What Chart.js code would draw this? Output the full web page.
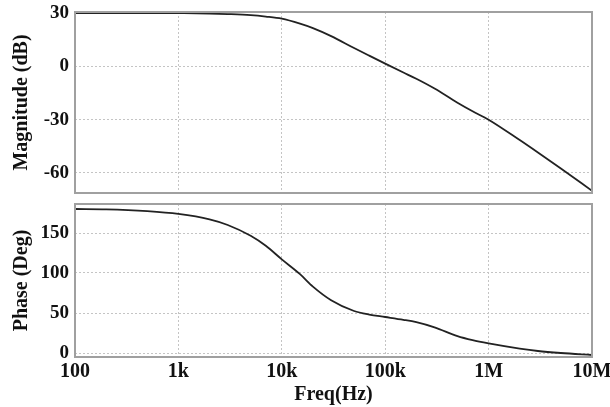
<!DOCTYPE html>
<html>
<head>
<meta charset="utf-8">
<script src="https://cdn.jsdelivr.net/npm/chart.js@4.4.1/dist/chart.umd.min.js"></script>
<style>
    body { margin: 0; background: #fff; }
    #wrap { position: relative; width: 610px; height: 407px; }
    canvas { position: absolute; left: 0; }
    #mag { top: 0; }
    #phase { top: 200px; }
</style>
</head>
<body>
<div id="wrap">
    <canvas id="mag" width="610" height="200"></canvas>
    <canvas id="phase" width="610" height="207"></canvas>
</div>
<script>
// frequency points (Hz)
const freq = [100, 200, 500, 1e3, 2e3, 3e3, 5e3, 7e3, 1e4, 1.5e4, 2e4, 3e4, 5e4, 7e4,
    1e5, 1.5e5, 2e5, 3e5, 5e5, 7e5, 1e6, 2e6, 3e6, 5e6, 1e7];
// magnitude (dB)
const magnitude = [30, 30, 30, 29.9, 29.7, 29.4, 28.8, 28, 26.8, 24, 21.5, 17, 10.3, 6,
    1.5, -3.5, -7, -12.5, -20.5, -25.3, -30, -41.5, -48.5, -57.5, -70];
// phase (deg)
const phase = [180, 179.6, 177.3, 173.8, 167, 160, 146.5, 134, 117, 98.5, 83, 66, 52.5, 48,
    45, 41.5, 38.5, 32, 21, 16, 12, 5.5, 2.5, 0, -2.5];

const freqTicks = [100, 1e3, 1e4, 1e5, 1e6, 1e7];
const freqLabels = ['100', '1k', '10k', '100k', '1M', '10M'];
const magTicks = [-60, -30, 0, 30];
const phaseTicks = [0, 50, 100, 150];

const FONT = "'Liberation Serif', 'Times New Roman', serif";
const GRID = '#c4c4c4';

const frame = {
    id: 'frame',
    afterDraw(chart) {
        const a = chart.chartArea;
        const ctx = chart.ctx;
        ctx.save();
        ctx.strokeStyle = '#a0a0a0';
        ctx.lineWidth = 2;
        ctx.strokeRect(a.left, a.top, a.right - a.left, a.bottom - a.top);
        ctx.restore();
    }
};

const toPoints = ys => freq.map((f, i) => ({ x: f, y: ys[i] }));

const _createPanel = (canvas, opts) => {
    return new Chart(canvas, {
        type: 'line',
        data: {
            datasets: [{
                data: toPoints(opts.values),
                borderColor: '#222',
                borderWidth: 1.8,
                pointRadius: 0,
                fill: false,
                cubicInterpolationMode: 'monotone',
            }]
        },
        options: {
            responsive: false,
            animation: false,
            layout: { padding: { left: 0, right: 18, top: opts.padTop, bottom: 0 } },
            plugins: { legend: { display: false }, tooltip: { enabled: false } },
            scales: {
                x: {
                    type: 'logarithmic',
                    min: 100,
                    max: 1e7,
                    afterBuildTicks: scale => { scale.ticks = freqTicks.map(v => ({ value: v })); },
                    afterFit: scale => {
                        scale.height = opts.xHeight;
                        scale.paddingLeft = 0;
                        scale.paddingRight = 0;
                    },
                    grid: { color: GRID, drawTicks: false },
                    border: { display: false, dash: [2, 2] },
                    ticks: {
                        display: opts.showX,
                        padding: 3,
                        maxRotation: 0,
                        autoSkip: false,
                        color: '#111',
                        font: { family: FONT, size: 20, weight: 'bold' },
                        callback: v => freqLabels[freqTicks.indexOf(v)],
                    },
                    title: {
                        display: opts.showX,
                        text: 'Freq(Hz)',
                        color: '#111',
                        padding: { top: 0, bottom: 0 },
                        font: { family: FONT, size: 20, weight: 'bold' },
                    },
                },
                y: {
                    min: opts.min,
                    max: opts.max,
                    afterBuildTicks: scale => { scale.ticks = opts.ticks.map(v => ({ value: v })); },
                    afterFit: scale => {
                        scale.width = 75;
                        scale.paddingTop = 0;
                        scale.paddingBottom = 0;
                    },
                    grid: { color: GRID, drawTicks: false },
                    border: { display: false, dash: [2, 2] },
                    ticks: {
                        padding: 6,
                        color: '#111',
                        font: { family: FONT, size: 19, weight: 'bold' },
                    },
                    title: {
                        display: true,
                        text: opts.title,
                        color: '#111',
                        padding: { top: 10, bottom: 0 },
                        font: { family: FONT, size: 20, weight: 'bold' },
                    },
                },
            },
        },
        plugins: [frame],
    });
};

_createPanel(document.getElementById('mag'), {
    values: magnitude, ticks: magTicks, min: -71.25, max: 30.56,
    title: 'Magnitude (dB)', padTop: 12, xHeight: 7, showX: false,
});

_createPanel(document.getElementById('phase'), {
    values: phase, ticks: phaseTicks, min: -5, max: 186.25,
    title: 'Phase (Deg)', padTop: 4, xHeight: 50, showX: true,
});
</script>
</body>
</html>
